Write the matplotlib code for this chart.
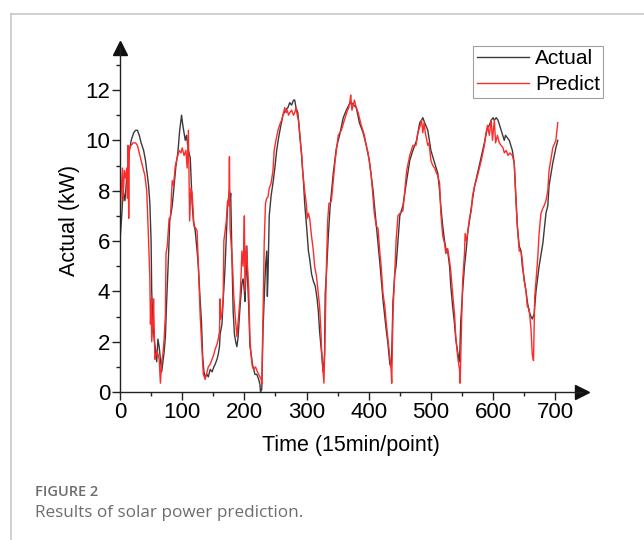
"""Solar power prediction: actual vs. predicted output (15 min / point)."""
import matplotlib
matplotlib.use("Agg")
import matplotlib.pyplot as plt
from matplotlib.lines import Line2D
from matplotlib.ticker import MultipleLocator

plt.rcParams["font.family"] = ["Liberation Sans", "DejaVu Sans"]

# --------------------------------------------------------------------------- #
# data
# --------------------------------------------------------------------------- #
t_actual = [
    0, 3, 5, 8, 11, 14, 18, 22, 25, 28, 31, 34, 38, 41, 43, 46, 48, 50, 51, 53,
    55, 57, 59, 61, 63, 65, 67, 69, 71, 73, 75, 78, 80, 84, 87, 90, 93, 96, 99, 101,
    103, 105, 107, 110, 113, 116, 118, 121, 124, 126, 129, 131, 133, 135, 137, 140,
    142, 145, 148, 151, 153, 156, 158, 160, 161, 164, 166, 168, 169, 171, 173, 175,
    176, 177, 178, 180, 182, 184, 186, 188, 190, 192, 194, 196, 198, 200, 201, 203,
    204, 205, 207, 209, 211, 213, 215, 217, 220, 223, 225, 226, 228, 230, 232, 234,
    236, 237, 238, 240, 243, 246, 249, 252, 255, 258, 262, 266, 270, 273, 276, 279,
    281, 283, 286, 289, 292, 295, 297, 300, 303, 305, 308, 311, 314, 317, 319, 321,
    324, 326, 327, 329, 330, 332, 335, 338, 343, 348, 354, 359, 364, 368, 372, 376,
    380, 385, 391, 396, 401, 407, 412, 418, 423, 428, 431, 434, 436, 437, 439, 442,
    444, 447, 450, 455, 461, 466, 471, 477, 482, 485, 487, 490, 495, 500, 506, 511,
    514, 516, 519, 522, 524, 527, 530, 532, 535, 538, 540, 543, 545, 546, 548, 551,
    554, 557, 559, 562, 565, 570, 575, 581, 586, 591, 594, 597, 600, 602, 605, 608,
    613, 618, 620, 626, 631, 634, 637, 639, 642, 645, 647, 650, 653, 655, 658, 661,
    663, 666, 669, 674, 680, 685, 688, 690, 696, 701, 704,
]
actual = [
    6.0, 7.1, 8.0, 7.6, 8.6, 9.4, 10.0, 10.3, 10.4, 10.4, 10.2, 9.9, 9.6, 9.2, 8.8, 8.2, 7.5, 6.0, 4.0, 2.7,
    2.1, 1.7, 1.2, 2.1, 1.8, 1.3, 0.8, 1.2, 1.6, 2.2, 3.6, 5.4, 6.8, 7.4, 8.2, 9.0, 9.5, 10.4, 11.0, 10.6,
    10.3, 10.0, 10.2, 9.6, 9.3, 7.5, 6.8, 6.4, 5.6, 5.0, 3.6, 2.8, 1.4, 0.8, 0.6, 0.7,
    0.6, 0.9, 0.8, 1.0, 1.1, 1.3, 1.5, 1.8, 2.3, 2.7, 3.7, 4.5, 5.0, 6.2, 7.4, 7.8,
    8.0, 7.6, 7.9, 5.4, 3.2, 2.3, 2.0, 1.8, 2.2, 3.0, 3.7, 4.3, 4.5, 4.0, 3.6, 5.0,
    5.8, 4.6, 3.4, 1.8, 1.5, 1.1, 0.9, 0.7, 0.7, 0.5, 0.3, 0.0, 0.1, 2.5, 3.8, 5.0,
    5.6, 3.8, 4.6, 7.0, 7.8, 8.3, 8.9, 9.6, 10.1, 10.5, 11.0, 11.2, 11.3, 11.5, 11.4, 11.6,
    11.6, 11.3, 11.1, 10.3, 9.4, 8.4, 7.5, 6.6, 5.6, 5.3, 4.7, 4.4, 4.2, 3.7, 3.2, 2.4,
    1.6, 1.0, 0.8, 1.5, 3.9, 4.7, 6.2, 7.4, 8.7, 9.7, 10.3, 10.9, 11.2, 11.4, 11.5, 11.4,
    11.3, 10.7, 10.3, 9.8, 9.2, 8.0, 6.7, 5.1, 3.65, 2.5, 1.9, 1.1, 1.0, 1.5, 3.6, 4.7,
    5.0, 6.0, 7.0, 7.4, 8.4, 9.2, 9.6, 10.0, 10.7, 10.8, 10.9, 10.7, 10.4, 9.6, 9.1, 8.7,
    8.0, 7.35, 6.6, 6.0, 5.7, 5.6, 5.0, 4.2, 3.4, 2.7, 2.1, 1.6, 1.3, 1.2, 2.8, 4.0,
    5.0, 5.7, 6.3, 6.8, 7.35, 8.15, 8.7, 9.35, 9.9, 10.5, 10.6, 10.8, 10.9, 10.8, 10.9, 10.8,
    10.4, 10.0, 10.2, 10.0, 9.6, 9.1, 7.6, 6.6, 5.8, 5.6, 5.0, 4.5, 4.0, 3.6, 3.2, 3.0,
    2.9, 3.1, 4.0, 5.0, 5.9, 7.1, 7.4, 8.2, 9.1, 9.7, 10.0,
]

t_predict = [
    0, 2, 4, 5, 7, 9, 11, 12, 13, 14, 15, 18, 21, 25, 28, 32, 36, 40, 43, 46,
    48, 49, 50, 51, 53, 54, 56, 58, 60, 63, 65, 67, 69, 71, 73, 74, 76, 79, 81, 84,
    86, 89, 92, 95, 98, 100, 103, 106, 108, 110, 112, 114, 116, 119, 122, 124, 127, 129,
    131, 134, 137, 140, 142, 145, 148, 151, 153, 156, 158, 160, 161, 162, 164, 166, 167,
    169, 171, 173, 175, 176, 177, 179, 181, 183, 185, 188, 190, 193, 195, 196, 198, 199,
    200, 201, 203, 205, 207, 209, 211, 213, 215, 218, 221, 223, 225, 227, 228, 230, 232,
    234, 236, 238, 240, 243, 246, 248, 250, 254, 258, 260, 263, 265, 267, 269, 271, 273,
    276, 279, 281, 283, 285, 287, 289, 292, 294, 297, 300, 301, 303, 305, 308, 311, 313,
    316, 319, 321, 323, 324, 326, 327, 328, 330, 332, 334, 336, 338, 340, 343, 346, 349,
    351, 356, 362, 366, 368, 370, 371, 373, 375, 377, 380, 383, 388, 393, 396, 399, 404,
    409, 412, 415, 418, 420, 423, 426, 428, 431, 434, 436, 437, 439, 442, 444, 447, 450,
    455, 458, 461, 466, 471, 476, 479, 483, 485, 487, 489, 491, 495, 497, 500, 503, 506,
    509, 511, 514, 516, 519, 522, 524, 527, 530, 532, 535, 538, 540, 543, 546, 547, 550,
    551, 554, 555, 557, 559, 562, 565, 567, 570, 575, 581, 586, 588, 591, 594, 597, 599,
    602, 604, 607, 610, 613, 616, 618, 621, 624, 627, 631, 634, 637, 639, 642, 645, 647,
    650, 653, 655, 658, 661, 663, 665, 667, 669, 672, 674, 677, 680, 682, 685, 688, 690,
    696, 701, 704,
]
predict = [
    7.0, 8.0, 8.9, 7.6, 8.8, 8.5, 8.9, 7.7, 9.8, 6.9, 9.7, 9.8, 9.9, 9.9, 9.8, 9.4, 9.0, 8.6, 8.0, 6.0,
    4.5, 2.7, 3.7, 2.0, 2.8, 3.7, 1.3, 1.5, 1.6, 1.3, 0.35, 1.2, 1.5, 2.1, 3.1, 5.5, 5.8, 6.9, 6.9, 8.4,
    8.2, 9.0, 9.3, 9.6, 9.5, 9.7, 9.4, 9.6, 8.9, 10.4, 6.8, 8.1, 7.9, 6.6, 6.5, 6.4, 4.4, 3.0,
    2.1, 0.7, 0.5, 0.8, 1.0, 1.1, 1.3, 1.5, 1.7, 1.9, 2.1, 2.4, 3.7, 2.9, 3.1, 3.8, 6.0,
    6.4, 6.8, 7.6, 7.4, 9.35, 6.5, 5.8, 5.0, 3.8, 3.1, 2.2, 2.8, 3.7, 4.8, 5.6, 5.0, 5.8,
    7.0, 4.0, 5.8, 5.0, 4.1, 2.1, 1.4, 1.0, 0.9, 1.0, 0.8, 0.7, 0.6, 0.5, 0.3, 3.0, 6.0,
    7.5, 7.7, 7.75, 8.1, 8.3, 8.8, 9.6, 9.9, 10.4, 10.7, 10.8, 11.1, 11.3, 11.1, 11.2, 11.0, 11.1,
    11.2, 11.0, 11.1, 11.3, 11.0, 10.8, 10.2, 9.5, 8.7, 8.0, 7.4, 6.9, 7.1, 6.9, 6.2, 5.6, 5.0,
    4.6, 3.9, 3.4, 2.5, 1.8, 1.0, 0.7, 0.35, 2.5, 5.0, 6.8, 7.5, 7.5, 7.6, 8.4, 9.2, 9.8,
    10.2, 10.4, 10.9, 11.2, 11.3, 11.6, 11.8, 11.2, 11.4, 11.6, 11.3, 11.1, 10.6, 10.2, 9.8, 9.5, 8.6,
    7.1, 6.6, 6.5, 5.5, 5.0, 3.9, 3.4, 2.8, 2.1, 1.4, 0.9, 0.35, 3.1, 4.8, 6.0, 7.0, 7.1,
    7.2, 8.0, 8.8, 9.4, 9.8, 9.8, 10.3, 10.6, 10.8, 10.3, 10.7, 10.3, 9.8, 9.9, 9.2, 9.0, 8.9,
    8.7, 8.6, 8.3, 7.1, 6.2, 5.9, 5.5, 5.7, 5.2, 4.8, 3.9, 3.1, 2.2, 1.4, 0.9, 0.35, 3.4,
    4.4, 5.5, 6.3, 6.0, 6.3, 6.9, 7.2, 7.8, 8.15, 8.6, 9.2, 9.8, 10.2, 10.6, 10.2, 10.8, 10.0,
    10.8, 9.9, 10.2, 9.9, 9.8, 9.7, 9.5, 9.6, 9.4, 9.5, 9.4, 9.1, 7.5, 6.6, 5.6, 5.6, 5.25,
    4.4, 4.0, 3.4, 3.3, 2.5, 1.5, 1.25, 3.8, 4.4, 5.4, 6.3, 7.1, 7.3, 7.4, 7.6, 8.0, 8.8,
    9.7, 10.0, 10.7,
]

x_ticks = [0, 100, 200, 300, 400, 500, 600, 700]
y_ticks = [0, 2, 4, 6, 8, 10, 12]

# --------------------------------------------------------------------------- #
# figure
# --------------------------------------------------------------------------- #
W, H = 644, 540
fig = plt.figure(figsize=(W / 100, H / 100), dpi=100)

# light frame around the figure panel (left + top edges visible)
frame_kw = dict(color="#c8c8c8", linewidth=1.2, transform=fig.transFigure)
fig.add_artist(Line2D([11 / W, 11 / W], [0, 1 - 14 / H], **frame_kw))
fig.add_artist(Line2D([11 / W, 1], [1 - 14 / H, 1 - 14 / H], **frame_kw))

ax = fig.add_axes([120 / W, 1 - 392 / H, 462 / W, 344 / H])

ax.plot(t_actual, actual, color="#3a3a3a", linewidth=1.0, label="Actual")
ax.plot(t_predict, predict, color="#ff2a2a", linewidth=1.0, label="Predict")

ax.set_xlim(0, 743)
ax.set_ylim(0, 13.67)

for side in ("top", "right"):
    ax.spines[side].set_visible(False)
for side in ("left", "bottom"):
    ax.spines[side].set_color("#222222")
    ax.spines[side].set_linewidth(1.0)

# arrow heads on the axis ends
ax.plot(1, 0, marker=">", color="#111111", markersize=10,
        transform=ax.transAxes, clip_on=False)
ax.plot(0, 1, marker="^", color="#111111", markersize=10,
        transform=ax.transAxes, clip_on=False)

ax.set_xticks(x_ticks)
ax.set_yticks(y_ticks)
ax.xaxis.set_minor_locator(MultipleLocator(50))
ax.yaxis.set_minor_locator(MultipleLocator(1))
ax.tick_params(which="major", direction="out", length=6, width=1,
               labelsize=16, pad=1, color="#222222")
ax.tick_params(which="minor", direction="out", length=3, width=1, color="#222222")

ax.set_xlabel("Time (15min/point)", fontsize=15.5, labelpad=9)
ax.set_ylabel("Actual (kW)", fontsize=15.5, labelpad=4)

leg = ax.legend(loc="upper right", bbox_to_anchor=(603 / W, 1 - 46 / H),
                bbox_transform=fig.transFigure, fontsize=15, frameon=True,
                fancybox=False, handlelength=2.5, handletextpad=0.3,
                borderpad=0.15, labelspacing=0.35, borderaxespad=0)
leg.get_frame().set_edgecolor("#888888")
leg.get_frame().set_linewidth(0.8)

# caption
fig.text(35 / W, 1 - 492 / H, "FIGURE 2", fontsize=10.5, color="#6d6d6d",
         va="center", ha="left", weight="semibold",
         family=["Open Sans", "DejaVu Sans"])
fig.text(35 / W, 1 - 513 / H, "Results of solar power prediction.", fontsize=12.3,
         color="#6d6d6d", va="center", ha="left", family=["Open Sans", "DejaVu Sans"])

fig.savefig("out.png", dpi=100)
